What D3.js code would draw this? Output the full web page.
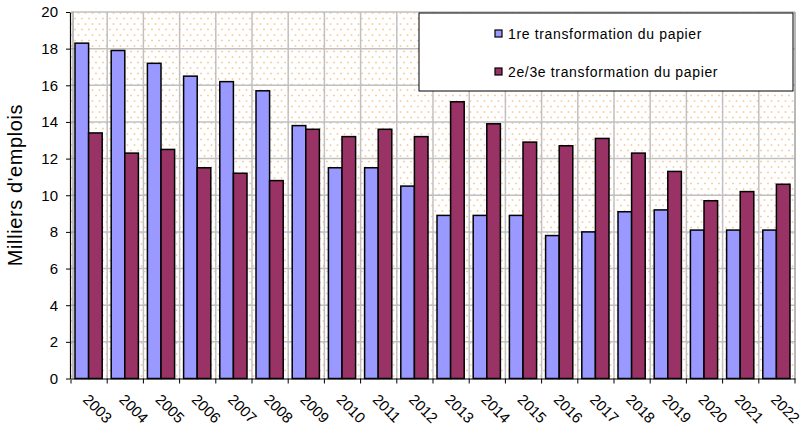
<!DOCTYPE html>
<html>
<head>
<meta charset="utf-8">
<script src="https://cdn.jsdelivr.net/npm/d3@7"></script>
<style>
  body { margin: 0; background: #fff; }
  svg { display: block; font-family: Arial, "Liberation Sans", sans-serif; }
</style>
</head>
<body>
<div id="chart"></div>
<script>
const years = ["2003", "2004", "2005", "2006", "2007", "2008", "2009", "2010", "2011", "2012",
  "2013", "2014", "2015", "2016", "2017", "2018", "2019", "2020", "2021", "2022"];
const premiere = [18.3, 17.9, 17.2, 16.5, 16.2, 15.7, 13.8, 11.5, 11.5, 10.5,
  8.9, 8.9, 8.9, 7.8, 8.0, 9.1, 9.2, 8.1, 8.1, 8.1];
const deuxTrois = [13.4, 12.3, 12.5, 11.5, 11.2, 10.8, 13.6, 13.2, 13.6, 13.2,
  15.1, 13.9, 12.9, 12.7, 13.1, 12.3, 11.3, 9.7, 10.2, 10.6];
const seriesNames = ["1re transformation du papier", "2e/3e transformation du papier"];
const yTicks = [0, 2, 4, 6, 8, 10, 12, 14, 16, 18, 20];

const width = 804, height = 427;
const plotLeft = 71, plotRight = 795, plotTop = 12, plotBottom = 378.5;
const colours = ["#9999ff", "#993366"];

const svg = d3.select("#chart").append("svg")
  .attr("width", width)
  .attr("height", height);

// dotted background pattern
const defs = svg.append("defs");
const pat = defs.append("pattern")
  .attr("id", "dots")
  .attr("patternUnits", "userSpaceOnUse")
  .attr("width", 7).attr("height", 11);
pat.append("rect").attr("width", 7).attr("height", 11).attr("fill", "#fff");
[[1.5, 2], [5, 7.5]].forEach(p => {
  pat.append("circle").attr("cx", p[0]).attr("cy", p[1]).attr("r", 1.1).attr("fill", "#fde0c0");
  pat.append("circle").attr("cx", p[0]).attr("cy", p[1]).attr("r", 0.55).attr("fill", "#f9b878");
});

const x = d3.scaleBand().domain(years).range([plotLeft, plotRight]).paddingInner(0).paddingOuter(0);
const inner = d3.scaleBand().domain([0, 1]).range([4, x.bandwidth() - 5]);
const y = d3.scaleLinear().domain([0, 20]).range([plotBottom, plotTop]);

svg.append("rect")
  .attr("x", plotLeft).attr("y", plotTop)
  .attr("width", plotRight - plotLeft).attr("height", plotBottom - plotTop)
  .attr("fill", "url(#dots)");

// grid lines
svg.append("g").selectAll("line")
  .data(yTicks.slice(1))
  .join("line")
  .attr("x1", plotLeft).attr("x2", plotRight)
  .attr("y1", d => y(d)).attr("y2", d => y(d))
  .attr("stroke", "#c0c0c0").attr("stroke-width", 1.5);

svg.append("g").selectAll("line")
  .data(years.slice(1))
  .join("line")
  .attr("x1", d => x(d)).attr("x2", d => x(d))
  .attr("y1", plotTop).attr("y2", plotBottom)
  .attr("stroke", "#c0c0c0").attr("stroke-width", 1.5);

svg.append("line")
  .attr("x1", plotRight).attr("x2", plotRight).attr("y1", plotTop).attr("y2", plotBottom)
  .attr("stroke", "#a0a0a0").attr("stroke-width", 1.5);
svg.append("line")
  .attr("x1", plotLeft + 2).attr("x2", plotLeft + 2).attr("y1", plotTop).attr("y2", plotBottom)
  .attr("stroke", "#808080").attr("stroke-width", 1);

// bars
const groups = [premiere, deuxTrois];
groups.forEach((vals, i) => {
  svg.append("g").selectAll("rect")
    .data(vals)
    .join("rect")
    .attr("x", (d, j) => x(years[j]) + inner(i))
    .attr("y", d => y(d))
    .attr("width", inner.bandwidth())
    .attr("height", d => y(0) - y(d))
    .attr("fill", colours[i])
    .attr("stroke", "#000")
    .attr("stroke-width", 1.5);
});

// y axis
const yAxis = svg.append("g")
  .attr("transform", `translate(${plotLeft - 1},0)`)
  .call(d3.axisLeft(y).tickValues(yTicks).tickSize(4).tickPadding(8).tickSizeOuter(0));
yAxis.select(".domain").attr("stroke", "#000").attr("stroke-width", 1.2);
yAxis.selectAll(".tick line").attr("stroke", "#000");
yAxis.selectAll("text").attr("font-size", 15).attr("fill", "#000")
  .attr("font-family", "Arial, 'Liberation Sans', sans-serif");

// x axis
const xAxis = svg.append("g")
  .attr("transform", `translate(0,${plotBottom})`)
  .call(d3.axisBottom(x).tickSize(0).tickSizeOuter(0));
xAxis.select(".domain").attr("stroke", "#000").attr("stroke-width", 1.2);
xAxis.selectAll(".tick line").remove();
xAxis.selectAll(".tick text")
  .attr("font-size", 15).attr("fill", "#000")
  .attr("font-family", "Arial, 'Liberation Sans', sans-serif")
  .attr("text-anchor", "start")
  .attr("dy", null).attr("y", 0)
  .attr("transform", "translate(-7,22) rotate(45)");

// boundary tick marks on x axis
svg.append("g").selectAll("line")
  .data(years.concat(["end"]))
  .join("line")
  .attr("x1", d => d === "end" ? plotRight : x(d))
  .attr("x2", d => d === "end" ? plotRight : x(d))
  .attr("y1", plotBottom).attr("y2", plotBottom + 5)
  .attr("stroke", "#000").attr("stroke-width", 1);

// y label
svg.append("text")
  .attr("transform", "translate(22,185) rotate(-90)")
  .attr("text-anchor", "middle")
  .attr("font-size", 20)
  .attr("letter-spacing", 0.6)
  .text("Milliers d'emplois");

// legend
const lg = svg.append("g").attr("transform", "translate(419,13)");
lg.append("rect")
  .attr("width", 374).attr("height", 78)
  .attr("fill", "#fff").attr("stroke", "#000").attr("stroke-width", 1);
seriesNames.forEach((name, i) => {
  const yy = 21 + i * 38;
  lg.append("rect")
    .attr("x", 76).attr("y", yy - 4)
    .attr("width", 7).attr("height", 7)
    .attr("fill", colours[i]).attr("stroke", "#000").attr("stroke-width", 1.2);
  lg.append("text")
    .attr("x", 89).attr("y", yy + 5)
    .attr("font-size", 14)
    .attr("letter-spacing", 0.65)
    .text(name);
});
</script>
</body>
</html>
